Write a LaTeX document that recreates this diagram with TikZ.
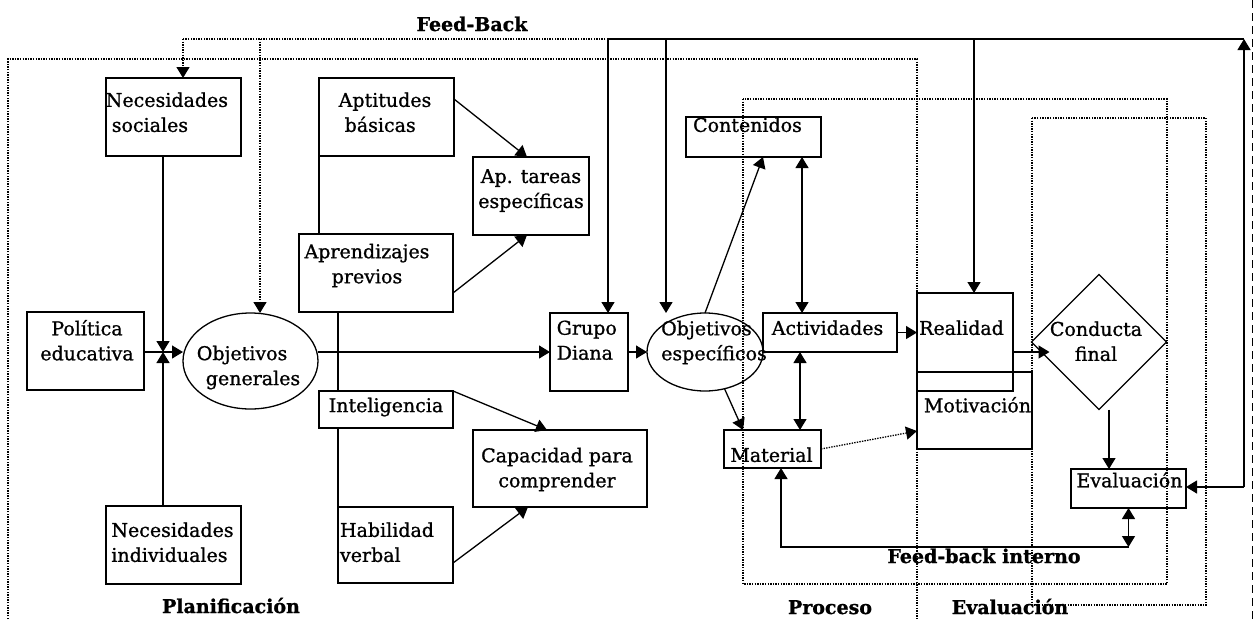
\documentclass[tikz,border=0pt]{standalone}
\usepackage{fontspec}
\setmainfont{DejaVu Serif}[FakeBold=1.0]
\usetikzlibrary{arrows.meta,shapes.geometric,calc}
\begin{document}
\begin{tikzpicture}[x=1pt,y=-1pt,
  every node/.style={inner sep=0pt,outer sep=0pt},
  box/.style 2 args={draw,line width=1.5pt,rectangle,minimum width=#1,minimum height=#2},
  oval/.style 2 args={draw,line width=1.3pt,ellipse,minimum width=#1,minimum height=#2},
  txt/.style={font=\fontsize{19}{25}\selectfont,align=center},
  txtl/.style={txt,align=left},
  ttl/.style={font=\fontsize{19}{25}\selectfont\bfseries,anchor=base},
  conn/.style={line width=1.3pt},
  arr/.style={conn,-{Triangle[length=11pt,width=13pt]}},
  dbl/.style={conn,{Triangle[length=11pt,width=13pt]}-{Triangle[length=11pt,width=13pt]}},
  dots/.style={line width=1.3pt,dash pattern=on 1.4pt off 1.2pt},
  dotarr/.style={dots,-{Triangle[length=11pt,width=13pt]}}]
\useasboundingbox (0,0) rectangle (1255,619);

% ---- region frames
\draw[dots] (8,619) -- (8,59) -- (917,59) -- (917,619);
\draw[dots] (743,99) rectangle (1167,584);
\draw[dots] (1032,118) rectangle (1206,605);
\draw[line width=0.8pt,dash pattern=on 8pt off 5pt] (1252,0) -- (1252,619);

% ---- planning
\node[box={135pt}{78pt}] (ns) at (173.5,117) {};
\node[txtl] (nst) at ([shift={(-6.6,-4.7)}]ns.center) {Necesidades\\\hspace*{6pt}sociales};
\node[box={117pt}{78pt}] (pe) at (85.5,351) {};
\node[txt] (pet) at ([shift={(1.5,-10.7)}]pe.center) {Política\\educativa};
\node[oval={135pt}{96pt}] (og) at (250.5,361) {};
\node[txtl] (ogt) at ([shift={(-2,6.5)}]og.center) {Objetivos\\\hspace*{9pt}generales};
\node[box={135pt}{78pt}] (ni) at (173.5,545) {};
\node[txtl] (nit) at ([shift={(-1,-2.7)}]ni.center) {Necesidades\\individuales};

\node[box={135pt}{78pt}] (ap) at (386.5,117) {};
\node[txtl] (apt) at ([shift={(-1.5,-4.7)}]ap.center) {Aptitudes\\\hspace*{6pt}básicas};
\node[box={154pt}{78pt}] (apr) at (376,273) {};
\node[txt] (aprt) at ([shift={(-9,-7.5)}]apr.center) {Aprendizajes\\previos};
\node[box={116pt}{78pt}] (at) at (531,196) {};
\node[txt] (att) at ([shift={(0,-5.5)}]at.center) {Ap. tareas\\específicas};
\node[box={134pt}{37pt}] (in) at (386,409.5) {};
\node[txt] (int) at ([shift={(0,-2.5)}]in.center) {Inteligencia};
\node[box={115pt}{76pt}] (hv) at (395.5,545) {};
\node[txtl] (hvt) at ([shift={(-8.5,-2.7)}]hv.center) {Habilidad\\verbal};
\node[box={174pt}{77pt}] (cp) at (560,468.5) {};
\node[txt] (cpt) at ([shift={(-3,1)}]cp.center) {Capacidad para\\comprender};

\node[box={78pt}{78pt}] (gd) at (589,352) {};
\node[txtl] (gdt) at ([shift={(-2.2,-11.7)}]gd.center) {Grupo\\Diana};

% ---- process
\node[oval={116pt}{78pt}] (oe) at (705,352) {};
\node[txtl] (oet) at ([shift={(9,-9.5)}]oe.center) {Objetivos\\específicos};
\node[box={135pt}{40pt}] (co) at (753.5,137) {};
\node[txt] (cot) at ([shift={(-6,-12.2)}]co.center) {Contenidos};
\node[box={134pt}{39pt}] (ac) at (830,332.5) {};
\node[txt] (act) at ([shift={(-2.5,-4.7)}]ac.center) {Actividades};
\node[box={97pt}{38pt}] (ma) at (772.5,449) {};
\node[txt] (mat) at ([shift={(-1,5.8)}]ma.center) {Material};

% ---- evaluation
\node[box={115pt}{77pt}] (mo) at (974.5,410.5) {};
\node[txt] (mot) at ([shift={(3,-5.7)}]mo.center) {Motivación};
\node[box={96pt}{98pt}] (re) at (965,342) {};
\node[txt] (ret) at ([shift={(-3.5,-14.2)}]re.center) {Realidad};
\node[draw,line width=1.3pt,diamond,minimum width=135pt,minimum height=135pt] (cf) at (1099,342) {};
\node[txt] (cft) at ([shift={(-3,-0.7)}]cf.center) {Conducta\\final};
\node[box={115pt}{39pt}] (ev) at (1128.5,488.5) {};
\node[txt] (evt) at ([shift={(1,-8.7)}]ev.center) {Evaluación};

% ---- titles
\node[ttl] (tfb) at (472,31) {Feed-Back};
\node[ttl] (tpl) at (231,613) {Planificación};
\node[ttl] (tpr) at (830,614) {Proceso};
\node[ttl] (tev) at (1010,614) {Evaluación};
\node[ttl] (tfi) at (984,563) {Feed-back interno};

% ---- external feed-back
\coordinate (fbL) at (183,39);
\coordinate (fbG) at (260,39);
\coordinate (fbM) at (608,39);
\coordinate (fbE) at (666,39);
\coordinate (fbRe) at (974,39);
\coordinate (fbR) at (1244,39);
\coordinate (fbRd) at (1244,487);
\draw[dots] (fbM) -- (fbL);
\draw[dotarr] (fbL) -- (fbL |- ns.north);
\draw[dotarr] (fbG) -- (fbG |- og.north);
\draw[arr] (fbRd) -- (fbR);
\draw[conn] (fbR) -- (fbM);
\draw[arr] (fbRd) -- (fbRd -| ev.east);
\draw[arr] (fbM) -- (fbM |- gd.north);
\draw[arr] (fbE) -- (fbE |- oe.north);
\draw[arr] (fbRe) -- (fbRe |- re.north);

% ---- planning connectors
\coordinate (jn) at (163,352);
\draw[arr] (ns.south -| jn) -- (jn);
\draw[arr] (ni.north -| jn) -- (jn);
\draw[arr] (pe.east |- jn) -- (og.west |- jn);
\draw[arr] (og.east |- gd.west) -- (gd.west);
\draw[arr] (gd.east) -- (oe.west);
\draw[arr] ([yshift=18pt]ap.east) -- ([xshift=-4pt]at.north);
\draw[arr] ([yshift=-20pt]apr.east) -- ([xshift=-4pt]at.south);
\draw[conn] (ap.south west) -- (ap.south west |- apr.north);
\draw[conn] (apr.south -| hv.west) -- (in.north -| hv.west);
\draw[conn] (in.south -| hv.west) -- (hv.north west);
\draw[arr] (in.north east) -- ([xshift=-13pt]cp.north);
\draw[arr] ([yshift=-18pt]hv.east) -- ([xshift=-32pt]cp.south);

% ---- process connectors
\coordinate (ca) at ([xshift=-28pt]ac.north);
\coordinate (cb) at ([xshift=-30pt]ac.south);
\draw[arr] (oe.north) -- ([xshift=9.5pt]co.south);
\draw[arr] (oe.-62) -- ([xshift=-29.5pt]ma.north);
\draw[dbl] (ca |- co.south) -- (ca);
\draw[dbl] (cb) -- (cb |- ma.north);
\draw[arr] (ac.east) -- (ac.east -| re.west);
\draw[dotarr] (ma.east) -- ([yshift=-20.5pt]mo.west);
\draw[arr] ([yshift=-10pt]re.east) -- ([xshift=18pt,yshift=-10pt]cf.west);
\coordinate (cd) at ([xshift=10pt]cf.south);
\draw[arr] (cd) -- (cd |- ev.north);

% ---- internal feed-back
\coordinate (fbiR) at (1128,547);
\coordinate (fbiL) at (781,547);
\draw[dbl] (ev.south) -- (ev.south |- fbiR);
\draw[arr] (ev.south |- fbiR) -- (fbiL) -- (fbiL |- ma.south);
\end{tikzpicture}
\end{document}
